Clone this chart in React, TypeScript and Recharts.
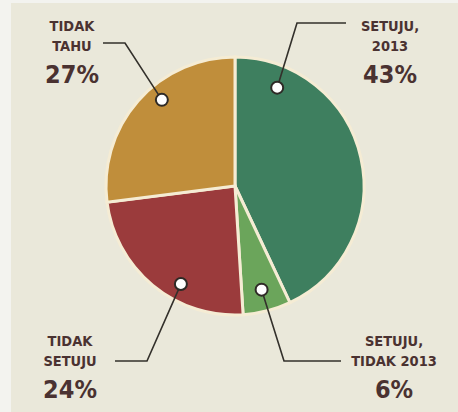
import React from 'react';
import { PieChart, Pie, Cell } from 'recharts';

// slice data, clockwise from 12 o'clock
const CATEGORIES = ['SETUJU, 2013', 'SETUJU, TIDAK 2013', 'TIDAK SETUJU', 'TIDAK TAHU'];
const LABEL_LINES = [
  ['SETUJU,', '2013'],
  ['SETUJU,', 'TIDAK 2013'],
  ['TIDAK', 'SETUJU'],
  ['TIDAK', 'TAHU'],
];
const VALUES = [43, 6, 24, 27];
const COLORS = ['#3E7F5F', '#6BA55B', '#9B3B3C', '#C08E3B'];

const data = CATEGORIES.map((name, i) => ({ name, value: VALUES[i] }));

// callout layout: where the dot sits inside its slice, the elbow of the leader and the text block
const CALLOUTS = [
  { frac: 0.15, r: 107, elbow: [297, 23], end: [346, 23], tx: 390, ty: 31 },
  { frac: 0.5, r: 107, elbow: [284, 361], end: [341, 361], tx: 394, ty: 346 },
  { frac: 0.376, r: 112, elbow: [147, 361], end: [115, 361], tx: 70, ty: 346 },
  { frac: 0.585, r: 113, elbow: [125, 43], end: [103, 43], tx: 72, ty: 31 },
];

const FONT = "'DejaVu Sans Condensed', 'DejaVu Sans', sans-serif";
const TEXT_COLOR = '#4A3231';

const renderCallout = (props: any) => {
  const { cx, cy, startAngle, endAngle, index } = props;
  const c = CALLOUTS[index];
  const a = ((startAngle + c.frac * (endAngle - startAngle)) * Math.PI) / 180;
  const x = cx + c.r * Math.cos(a);
  const y = cy - c.r * Math.sin(a);
  const lines = LABEL_LINES[index];
  return (
    <g key={`callout-${index}`}>
      <polyline
        points={`${x},${y} ${c.elbow[0]},${c.elbow[1]} ${c.end[0]},${c.end[1]}`}
        fill="none"
        stroke="#33302B"
        strokeWidth={1.6}
      />
      <circle cx={x} cy={y} r={6} fill="#FFFFFF" stroke="#2E2A26" strokeWidth={2} />
      <text textAnchor="middle" fontFamily={FONT} fontWeight="bold" fill={TEXT_COLOR}>
        <tspan x={c.tx} y={c.ty} fontSize={14.5}>{lines[0]}</tspan>
        <tspan x={c.tx} y={c.ty + 20} fontSize={14.5}>{lines[1]}</tspan>
        <tspan x={c.tx} y={c.ty + 52} fontSize={25}>{`${VALUES[index]}%`}</tspan>
      </text>
    </g>
  );
};

export default function App() {
  return (
    <div style={{ position: 'absolute', left: 0, top: 0, width: 458, height: 412, background: '#F3F3EF' }}>
      <div style={{ position: 'absolute', left: 11, top: 3, right: 0, bottom: 0, background: '#EAE8DA' }} />
      <div style={{ position: 'absolute', left: 0, top: 0 }}>
        <PieChart width={458} height={412} margin={{ top: 0, right: 0, bottom: 0, left: 0 }}>
          <Pie
            data={data}
            dataKey="value"
            nameKey="name"
            cx={235}
            cy={186}
            outerRadius={129}
            startAngle={90}
            endAngle={-270}
            stroke="#F5ECD4"
            strokeWidth={3}
            label={renderCallout}
            labelLine={false}
            isAnimationActive={false}
          >
            {data.map((d, i) => (
              <Cell key={d.name} fill={COLORS[i]} />
            ))}
          </Pie>
        </PieChart>
      </div>
    </div>
  );
}
